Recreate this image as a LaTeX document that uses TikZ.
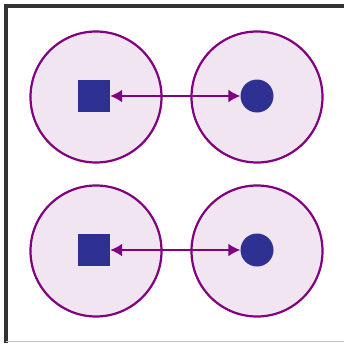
\documentclass[tikz,border=0pt]{standalone}
\usepackage{tikz}
\usetikzlibrary{positioning, arrows.meta}
\definecolor{ringpurple}{HTML}{800080}
\definecolor{ringfill}{HTML}{F2E5F2}
\definecolor{markblue}{HTML}{2E3192}
\tikzset{
	ring/.append style={
		circle,
		draw=ringpurple,
		fill=ringfill,
		line width=2.2pt,
		minimum size=131pt,
		inner sep=0pt,
	},
	sqmark/.append style={
		rectangle,
		fill=markblue,
		minimum size=32pt,
		inner sep=0pt,
	},
	dotmark/.append style={
		circle,
		fill=markblue,
		minimum size=33pt,
		inner sep=0pt,
	},
	link/.append style={
		draw=ringpurple,
		line width=2pt,
		{Latex[length=12pt,width=13pt]}-{Latex[length=12pt,width=13pt]},
	}
}
\begin{document}
\begin{tikzpicture}[x=1pt,y=-1pt]
\useasboundingbox (0,0) rectangle (344,343);

% frame
\draw[line width=3.5pt, draw=black!80] (6,343) -- (6,6) -- (344,6);
\draw[line width=1pt, draw=black!25] (6,341.5) -- (344,341.5);

% top row
\node(r1)[ring] at (96,97){};
\node(r2)[ring] at (257,97){};
\node(s1)[sqmark] at (94,96){};
\node(d1)[dotmark] at (257,96){};
\draw[link] (s1) -- (d1);

% bottom row
\node(r3)[ring] at (96,251){};
\node(r4)[ring] at (257,251){};
\node(s2)[sqmark] at (94,250){};
\node(d2)[dotmark] at (257,250){};
\draw[link] (s2) -- (d2);

\end{tikzpicture}
\end{document}
